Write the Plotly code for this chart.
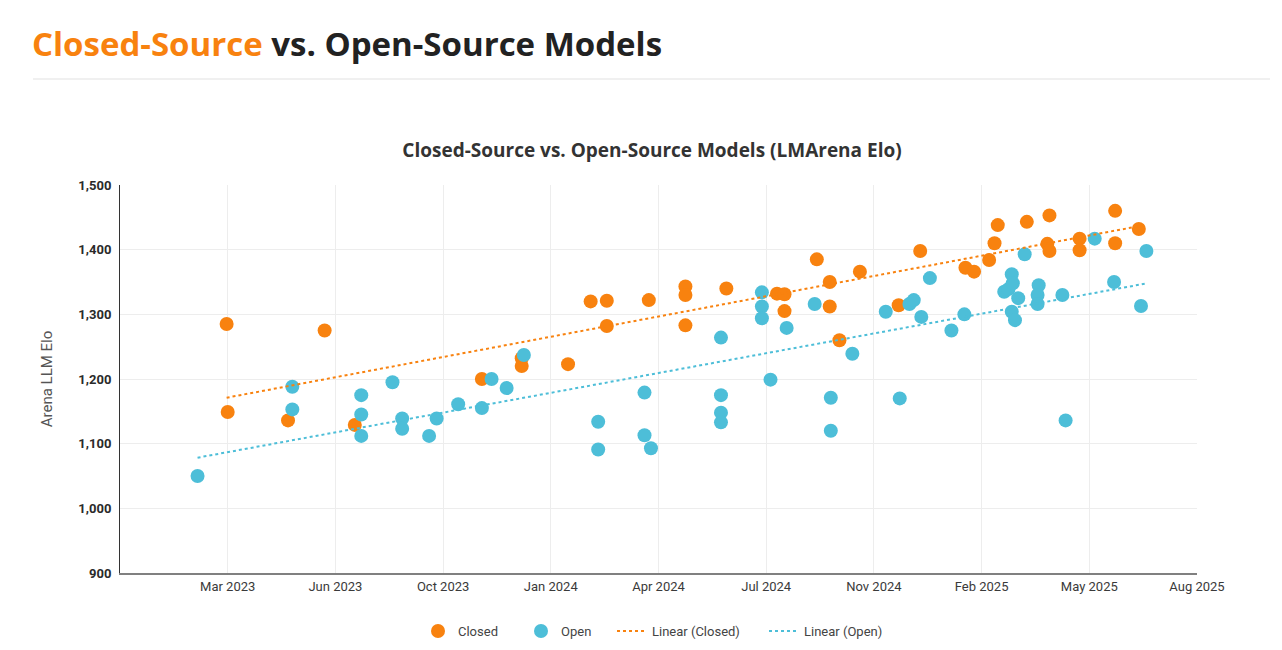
import numpy as np
import pandas as pd
import plotly.graph_objects as go

# ---------------- data ----------------
closed_dates = [
    "2023-03-14", "2023-03-15", "2023-05-10", "2023-06-13", "2023-07-11",
    "2023-11-06", "2023-12-13", "2023-12-13", "2024-01-25", "2024-02-15",
    "2024-03-01", "2024-03-01", "2024-04-09", "2024-05-13", "2024-05-13",
    "2024-05-13", "2024-06-20", "2024-08-06", "2024-08-13", "2024-08-13",
    "2024-09-12", "2024-09-24", "2024-09-24", "2024-10-03", "2024-10-22",
    "2024-11-27", "2024-12-17", "2025-01-28", "2025-02-05", "2025-02-19",
    "2025-02-24", "2025-02-27", "2025-03-26", "2025-04-14", "2025-04-16",
    "2025-04-16", "2025-05-14", "2025-05-14", "2025-06-16", "2025-06-16",
    "2025-07-08",
]
closed_elo = [
    1285, 1149, 1136, 1275, 1129,
    1200, 1232, 1220, 1223, 1320,
    1321, 1282, 1322, 1343, 1330,
    1283, 1340, 1332, 1331, 1305,
    1385, 1350, 1312, 1260, 1366,
    1314, 1398, 1372, 1366, 1384,
    1410, 1438, 1443, 1409, 1398,
    1453, 1417, 1399, 1460, 1410,
    1432,
]

open_dates = [
    "2023-02-15", "2023-05-14", "2023-05-14", "2023-07-17", "2023-07-17",
    "2023-07-17", "2023-08-15", "2023-08-24", "2023-08-24", "2023-09-18",
    "2023-09-25", "2023-10-15", "2023-11-06", "2023-11-15", "2023-11-29",
    "2023-12-15", "2024-02-22", "2024-02-22", "2024-04-05", "2024-04-05",
    "2024-04-11", "2024-06-15", "2024-06-15", "2024-06-15", "2024-06-15",
    "2024-07-23", "2024-07-23", "2024-07-23", "2024-07-31", "2024-08-15",
    "2024-09-10", "2024-09-25", "2024-09-25", "2024-10-15", "2024-11-15",
    "2024-11-28", "2024-12-07", "2024-12-11", "2024-12-18", "2024-12-26",
    "2025-01-15", "2025-01-27", "2025-03-05", "2025-03-09", "2025-03-12",
    "2025-03-13", "2025-03-18", "2025-03-12", "2025-03-15", "2025-03-24",
    "2025-04-06", "2025-04-05", "2025-04-05", "2025-04-28", "2025-05-01",
    "2025-05-28", "2025-06-15", "2025-07-10", "2025-07-15",
]
open_elo = [
    1050, 1188, 1153, 1175, 1145,
    1112, 1195, 1139, 1123, 1112,
    1139, 1161, 1155, 1200, 1186,
    1237, 1134, 1091, 1179, 1113,
    1093, 1264, 1175, 1148, 1133,
    1334, 1312, 1294, 1199, 1279,
    1316, 1171, 1120, 1239, 1304,
    1170, 1316, 1322, 1296, 1356,
    1275, 1300, 1335, 1339, 1362,
    1348, 1325, 1304, 1291, 1393,
    1345, 1330, 1316, 1330, 1136,
    1417, 1350, 1313, 1398,
]

x_tick_dates = ["2023-03-15", "2023-06-23", "2023-10-01", "2024-01-09", "2024-04-18",
                "2024-07-27", "2024-11-04", "2025-02-12", "2025-05-23", "2025-08-31"]
x_tick_labels = ["Mar 2023", "Jun 2023", "Oct 2023", "Jan 2024", "Apr 2024",
                 "Jul 2024", "Nov 2024", "Feb 2025", "May 2025", "Aug 2025"]
y_ticks = [900, 1000, 1100, 1200, 1300, 1400, 1500]

ORANGE = "#F8820F"
BLUE = "#4DBED8"
FONT = "Roboto"
TITLE_FONT = "Open Sans"

W, H = 1282, 650
L, R, T, B = 112, 93, 177, 85
PW, PH = W - L - R, H - T - B


def px_x(fx):
    return (fx - L) / PW


def px_y(fy):
    return (H - B - fy) / PH


def trend(dates, vals):
    d = pd.to_datetime(pd.Series(dates))
    t = (d - pd.Timestamp("2020-01-01")).dt.days.to_numpy(dtype=float)
    k, b = np.polyfit(t, np.asarray(vals, dtype=float), 1)
    t_end = np.array([t.min(), t.max()])
    x_end = [pd.Timestamp("2020-01-01") + pd.Timedelta(days=float(v)) for v in t_end]
    return x_end, list(k * t_end + b)


cx, cy = trend(closed_dates, closed_elo)
ox, oy = trend(open_dates, open_elo)

fig = go.Figure()
fig.add_trace(go.Scatter(x=closed_dates, y=closed_elo, mode="markers", name="Closed",
                         legend="legend",
                         marker=dict(color=ORANGE, size=14, line=dict(width=0))))
fig.add_trace(go.Scatter(x=open_dates, y=open_elo, mode="markers", name="Open",
                         legend="legend2",
                         marker=dict(color=BLUE, size=14, line=dict(width=0))))
fig.add_trace(go.Scatter(x=cx, y=cy, mode="lines", name="Linear (Closed)",
                         legend="legend3",
                         line=dict(color=ORANGE, width=2, dash="dot")))
fig.add_trace(go.Scatter(x=ox, y=oy, mode="lines", name="Linear (Open)",
                         legend="legend4",
                         line=dict(color=BLUE, width=2, dash="dot")))

leg_y = 1 - 623 / H


def leg(fx):
    return dict(orientation="h", xref="container", yref="container",
                x=fx / W, xanchor="left", y=leg_y, yanchor="middle",
                font=dict(family=FONT, size=13, color="#444444"), itemwidth=30,
                bgcolor="rgba(0,0,0,0)")


fig.update_layout(
    width=W, height=H,
    margin=dict(l=L, r=R, t=T, b=B, autoexpand=False),
    paper_bgcolor="white", plot_bgcolor="white",
    font=dict(family=FONT, color="#333333", size=12),
    title=dict(text="<b>Closed-Source vs. Open-Source Models (LMArena Elo)</b>",
               x=644 / W, xanchor="center", y=1 - 142 / H, yanchor="middle",
               font=dict(family=TITLE_FONT, size=19, color="#333333")),
    showlegend=True,
    legend=leg(410), legend2=leg(513), legend3=leg(604), legend4=leg(756),
    xaxis=dict(type="date", range=["2022-12-05", "2025-08-31"],
               tickvals=x_tick_dates, ticktext=x_tick_labels,
               showgrid=True, gridcolor="#EDEDED", gridwidth=1,
               showline=True, linecolor="#808080", linewidth=2,
               ticks="", zeroline=False, automargin=False,
               tickfont=dict(family=FONT, size=13, color="#3A3A3A")),
    yaxis=dict(range=[900, 1500], tickvals=y_ticks, tickformat=",",
               showgrid=True, gridcolor="#EDEDED", gridwidth=1,
               showline=True, linecolor="#333333", linewidth=1,
               ticks="", zeroline=False, automargin=False, ticklabelstandoff=5,
               tickfont=dict(family=FONT, size=13, color="#2A2A2A", weight="bold"),
               title=dict(text="Arena LLM Elo", standoff=22,
                          font=dict(family=FONT, size=15, color="#555555"))),
    annotations=[dict(
        text="<b><span style='color:%s'>Closed-Source</span> vs. Open-Source Models</b>" % ORANGE,
        xref="paper", yref="paper", x=px_x(22), y=px_y(36),
        xanchor="left", yanchor="middle", showarrow=False,
        font=dict(family=TITLE_FONT, size=33, color="#222222", weight=800))],
    shapes=[dict(type="line", xref="paper", yref="paper",
                 x0=px_x(25), x1=px_x(1262), y0=px_y(71), y1=px_y(71),
                 line=dict(color="#EBEBEB", width=1.5))],
)

fig.write_html("out.html")
